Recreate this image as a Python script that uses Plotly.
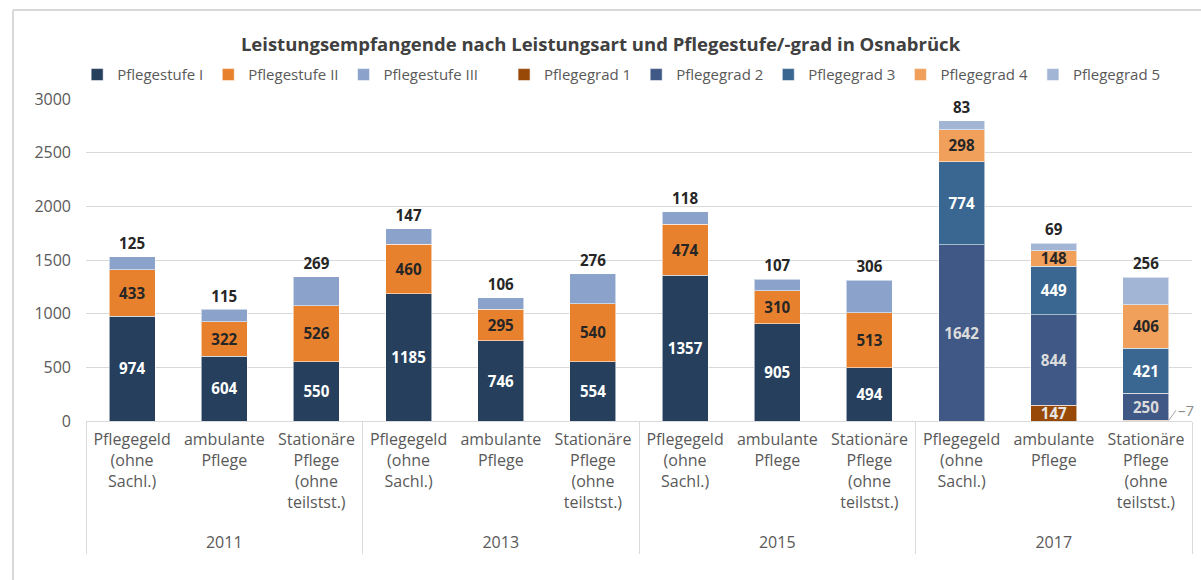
import plotly.graph_objects as go

years_old = ["2011", "2011", "2011", "2013", "2013", "2013", "2015", "2015", "2015"]
years_new = ["2017", "2017", "2017"]
cats = ["Pflegegeld<br>(ohne<br>Sachl.)", "ambulante<br>Pflege", "Stationäre<br>Pflege<br>(ohne<br>teilstst.)"]
cats_old = cats * 3

ps1 = [974, 604, 550, 1185, 746, 554, 1357, 905, 494]
ps2 = [433, 322, 526, 460, 295, 540, 474, 310, 513]
ps3 = [125, 115, 269, 147, 106, 276, 118, 107, 306]

pg1 = [0, 147, 7]
pg2 = [1642, 844, 250]
pg3 = [774, 449, 421]
pg4 = [298, 148, 406]
pg5 = [83, 69, 256]

FONT = "Open Sans"
GRAY = "#595959"
DARK = "#262626"

# year labels with a leading blank line to push them lower (as in the reference)
yo = ["<br>" + y for y in years_old]
yn = ["<br>" + y for y in years_new]

fig = go.Figure()

def add(name, x, y, color, textcolor, pos, legend, text=None):
    fig.add_trace(go.Bar(
        name=name, x=x, y=y,
        marker=dict(color=color, line=dict(color="rgba(255,255,255,0.55)", width=1)),
        text=text if text is not None else [str(v) for v in y],
        textposition=pos,
        insidetextanchor="middle",
        textangle=0,
        textfont=dict(family=FONT, size=16, color=textcolor, weight="bold"),
        cliponaxis=False,
        legend=legend,
        hoverinfo="skip",
    ))

xo = [yo, cats_old]
xn = [yn, cats]
add("Pflegestufe I", xo, ps1, "#253F5C", "white", "inside", "legend")
add("Pflegestufe II", xo, ps2, "#E8812E", DARK, "inside", "legend")
add("Pflegestufe III", xo, ps3, "#8BA3CB", DARK, "outside", "legend")
add("Pflegegrad 1", xn, pg1, "#984807", "#E6E6E6", "inside", "legend2",
    text=[str(v) if v >= 50 else "" for v in pg1])
add("Pflegegrad 2", xn, pg2, "#3F5885", "#DCDCDC", "inside", "legend2")
add("Pflegegrad 3", xn, pg3, "#3A6791", "white", "inside", "legend2")
add("Pflegegrad 4", xn, pg4, "#F1A05C", DARK, "inside", "legend2")
add("Pflegegrad 5", xn, pg5, "#A3B5D5", DARK, "outside", "legend2")

# small label for Pflegegrad 1 in Stationäre 2017 (leader line + value)
fig.add_annotation(x=11.25, y=pg1[2], xref="x", yref="y", text="–" + str(pg1[2]),
                   showarrow=True, arrowhead=0, arrowwidth=1, arrowcolor="#A6A6A6",
                   ax=7, ay=-10, xanchor="left",
                   font=dict(family=FONT, size=15, color="#8C8C8C"))

fig.update_layout(
    barmode="stack",
    bargap=0.5,
    width=1201, height=580,
    margin=dict(l=86, r=9, t=99, b=159, autoexpand=False),
    paper_bgcolor="white", plot_bgcolor="white",
    font=dict(family=FONT, color=GRAY, size=16),
    title=dict(text="<b>Leistungsempfangende nach Leistungsart und Pflegestufe/-grad in Osnabrück</b>",
               x=0.5, xanchor="center", y=1 - 45 / 580, yanchor="middle",
               font=dict(family=FONT, size=18.5, color="#404040")),
    uniformtext=dict(mode="show", minsize=15),
    legend=dict(orientation="h", x=-0.008, xanchor="left", y=1.075, yanchor="middle",
                font=dict(family=FONT, size=15, color=GRAY), itemwidth=30,
                bgcolor="rgba(0,0,0,0)", traceorder="normal"),
    legend2=dict(orientation="h", x=0.378, xanchor="left", y=1.075, yanchor="middle",
                 font=dict(family=FONT, size=15, color=GRAY), itemwidth=30,
                 bgcolor="rgba(0,0,0,0)", traceorder="normal"),
    showlegend=True,
)

fig.update_yaxes(range=[0, 3000], tickvals=[0, 500, 1000, 1500, 2000, 2500, 3000],
                 gridcolor="#D9D9D9", gridwidth=1, zeroline=False, showline=False,
                 automargin=False,
                 tickfont=dict(family=FONT, size=16, color=GRAY), ticklabelstandoff=14)
fig.update_xaxes(type="multicategory", range=[-0.5, 11.5], automargin=False,
                 showline=True, linecolor="#D9D9D9", linewidth=1,
                 showdividers=True, dividercolor="#D9D9D9", dividerwidth=1,
                 ticklabelstandoff=4,
                 tickfont=dict(family=FONT, size=16, color=GRAY), ticks="")

# outer frame (top and left edges)
H = 322.0
W = 1106.0
fig.add_shape(type="line", xref="paper", yref="paper",
              x0=(13 - 86) / W, x1=(1201 - 86) / W, y0=1 + 89 / H, y1=1 + 89 / H,
              line=dict(color="#D9D9D9", width=2))
fig.add_shape(type="line", xref="paper", yref="paper",
              x0=(13 - 86) / W, x1=(13 - 86) / W, y0=1 + 89 / H, y1=-159 / H - 0.01,
              line=dict(color="#D9D9D9", width=2))

fig.write_html("out.html", config={"displayModeBar": False},
               post_script="document.body.style.margin='0px';")
